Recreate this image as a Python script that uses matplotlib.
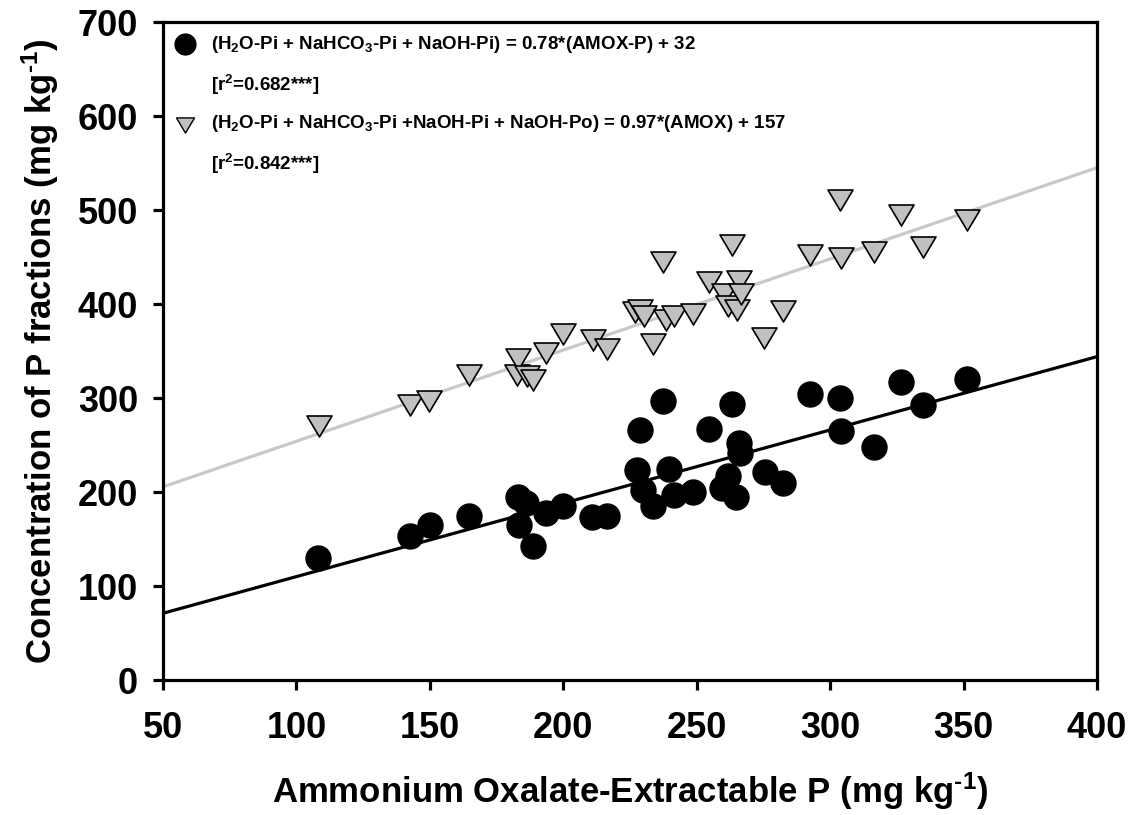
import numpy as np
from matplotlib import pyplot as plt
from matplotlib.path import Path

plt.rcParams['font.family'] = ['Liberation Sans', 'DejaVu Sans']
plt.rcParams['font.weight'] = 'bold'
plt.rcParams['mathtext.fontset'] = 'custom'
plt.rcParams['mathtext.rm'] = 'Liberation Sans:bold'
plt.rcParams['mathtext.default'] = 'rm'

# inorganic P (H2O-Pi + NaHCO3-Pi + NaOH-Pi) vs AMOX-P
amox_pi = [108, 142.5, 150, 164.5, 183, 183.4, 186, 188.6, 193.7, 200, 210.6, 216.2,
           227.5, 228.7, 230, 233.8, 237.3, 239.8, 241.6, 248.7, 254.6, 259.6, 261.6, 263.3,
           264.9, 265.8, 266.4, 275.5, 282.5, 292.6, 303.6, 304.1, 316.5, 326.5, 334.9, 351.4]
pi_sum = [130, 153, 165, 174, 195, 165, 188, 143, 178, 185, 173, 174,
          223, 266, 202, 185, 297, 225, 197, 200, 267, 204, 217, 294,
          195, 252, 241, 221, 210, 304, 300, 265, 248, 317, 293, 320]

# Pi + NaOH-Po vs AMOX-P
amox_tot = [108.4, 142.5, 149.8, 164.8, 182.5, 183.1, 186.3, 188.8, 193.7, 199.8, 211, 216.2,
            226.8, 228.7, 230.2, 233.7, 237.5, 238.6, 241.5, 248.7, 254.7, 260.2, 261.8, 263.3,
            265.2, 265.7, 266.7, 275.3, 282.4, 292.6, 303.7, 304.1, 316.5, 326.5, 334.9, 351.4]
p_sum = [270, 293, 297, 325, 324, 342, 323, 319, 348, 368, 362, 352,
         392, 394, 387, 357, 445, 383, 387, 389, 423, 411, 398, 463,
         394, 425, 411, 364, 393, 452, 511, 449, 455, 495, 461, 489]

# regression lines from the printed equations
fit_pi = (0.78, 32)
fit_tot = (0.97, 157)

tri = Path([(-1, 0.84), (1, 0.84), (0, -0.84), (-1, 0.84)],
           [Path.MOVETO, Path.LINETO, Path.LINETO, Path.CLOSEPOLY])

fig = plt.figure(figsize=(11.31, 8.15), dpi=100)
ax = fig.add_axes([163 / 1131, 135 / 815, 934 / 1131, 658 / 815])

xs = np.array([50, 400])
ax.plot(xs, fit_tot[0] * xs + fit_tot[1], color='#c8c8c8', lw=2.3, zorder=2)
ax.plot(xs, fit_pi[0] * xs + fit_pi[1], color='black', lw=2.3, zorder=2)

ax.plot(amox_tot, p_sum, ls='none', marker=tri, ms=18, mfc='#c0c0c0', mec='black', mew=1.2, zorder=3)
ax.plot(amox_pi, pi_sum, ls='none', marker='o', ms=18, mfc='black', mec='black', zorder=4)

ax.set_xlim(50, 400)
ax.set_ylim(0, 700)
ax.set_xticks(range(50, 401, 50))
ax.set_yticks(range(0, 701, 100))
for s in ax.spines.values():
    s.set_linewidth(2.3)
ax.tick_params(direction='out', length=7, width=2.3, labelsize=26)
ax.tick_params(axis='x', pad=15)
ax.tick_params(axis='y', pad=11)
for lab in ax.get_xticklabels() + ax.get_yticklabels():
    lab.set_fontweight('bold')

ax.set_xlabel(r'Ammonium Oxalate-Extractable P (mg kg$^{\text{-}1}$)', fontsize=25, fontweight='bold',
              labelpad=18)
ax.set_ylabel(r'Concentration of P fractions (mg kg$^{\text{-}1}$)', fontsize=25, fontweight='bold',
              labelpad=12)

# legend drawn by hand so the marker sits on the first line
leg_font = dict(fontsize=13.5, fontweight='bold', transform=ax.transAxes, va='center', ha='left')
ax.plot([0.0236], [0.966], transform=ax.transAxes, marker='o', ms=15, color='black', clip_on=False)
ax.text(0.0514, 0.966, '(H$_2$O-Pi + NaHCO$_3$-Pi + NaOH-Pi) = 0.78*(AMOX-P) + 32', **leg_font)
ax.text(0.0514, 0.905, '[r$^2$=0.682***]', **leg_font)
ax.plot([0.0236], [0.843], transform=ax.transAxes, marker=tri, ms=13, mfc='#c0c0c0', mec='black',
        mew=1.0, clip_on=False)
ax.text(0.0514, 0.846, '(H$_2$O-Pi + NaHCO$_3$-Pi +NaOH-Pi + NaOH-Po) = 0.97*(AMOX) + 157', **leg_font)
ax.text(0.0514, 0.785, '[r$^2$=0.842***]', **leg_font)

fig.savefig('out.png', dpi=100)
